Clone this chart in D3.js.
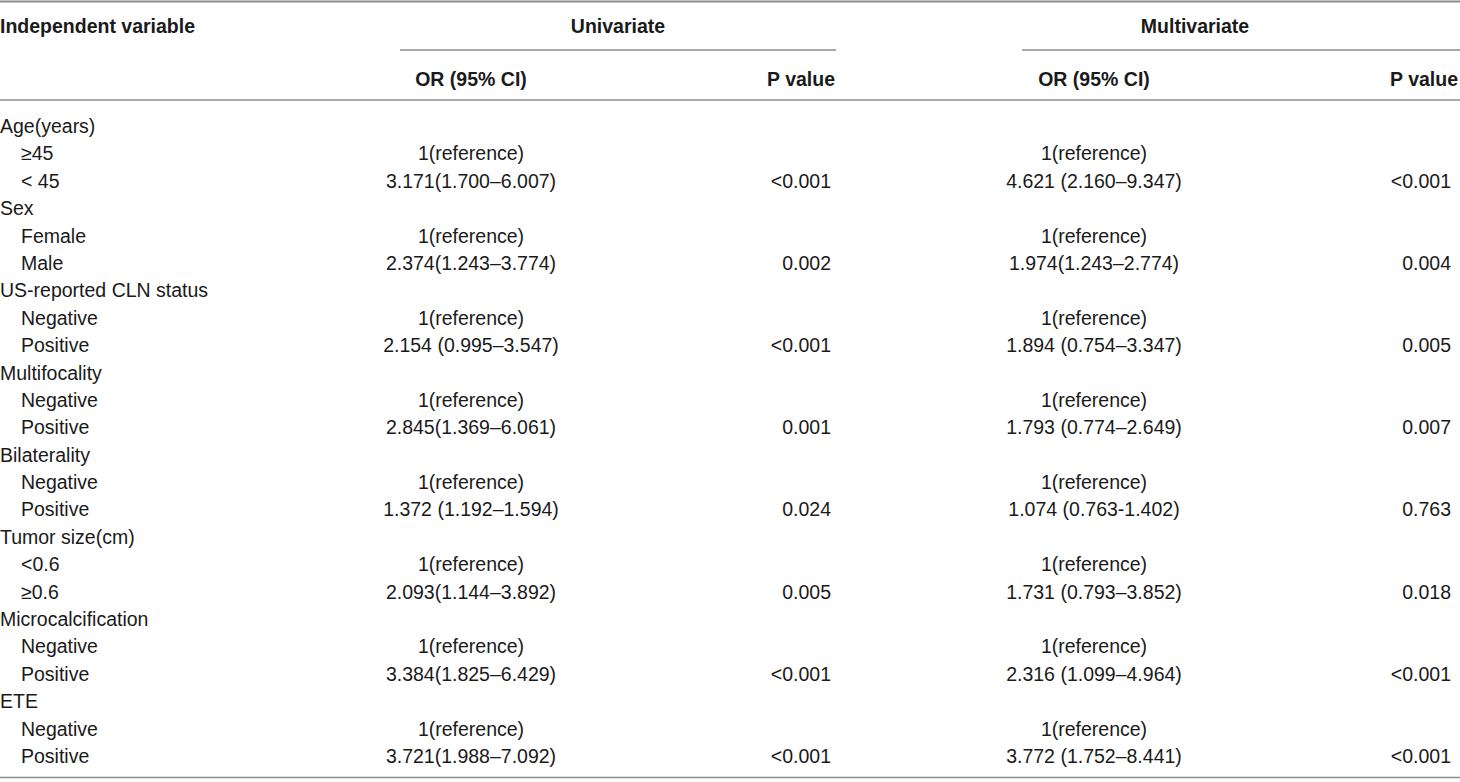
<!DOCTYPE html>
<html>
<head>
<meta charset="utf-8">
<script src="https://cdn.jsdelivr.net/npm/d3@7"></script>
<style>
  html, body { margin: 0; padding: 0; background: #fff; }
  svg { display: block; }
  text { font-family: "Liberation Sans Narrow", "Liberation Sans", Arial, sans-serif; font-stretch: condensed; }
</style>
</head>
<body>
<svg id="tbl" width="1460" height="782"></svg>
<script>
/* ---------- table data ---------- */
const variables = ['Age(years)', 'Sex', 'US-reported CLN status', 'Multifocality',
  'Bilaterality', 'Tumor size(cm)', 'Microcalcification', 'ETE'];
const levels = [
  ['≥45', '< 45'], ['Female', 'Male'], ['Negative', 'Positive'], ['Negative', 'Positive'],
  ['Negative', 'Positive'], ['<0.6', '≥0.6'], ['Negative', 'Positive'], ['Negative', 'Positive'],
];
const uniOR = ['3.171(1.700–6.007)', '2.374(1.243–3.774)', '2.154 (0.995–3.547)', '2.845(1.369–6.061)',
  '1.372 (1.192–1.594)', '2.093(1.144–3.892)', '3.384(1.825–6.429)', '3.721(1.988–7.092)'];
const uniP = ['<0.001', '0.002', '<0.001', '0.001', '0.024', '0.005', '<0.001', '<0.001'];
const multiOR = ['4.621 (2.160–9.347)', '1.974(1.243–2.774)', '1.894 (0.754–3.347)', '1.793 (0.774–2.649)',
  '1.074 (0.763-1.402)', '1.731 (0.793–3.852)', '2.316 (1.099–4.964)', '3.772 (1.752–8.441)'];
const multiP = ['<0.001', '0.004', '0.005', '0.007', '0.763', '0.018', '<0.001', '<0.001'];
const refLabel = '1(reference)';

/* ---------- flatten to rows ---------- */
const rows = [];
variables.forEach((v, i) => {
  rows.push({ label: v, indent: false });
  rows.push({ label: levels[i][0], indent: true, uOR: refLabel, mOR: refLabel });
  rows.push({ label: levels[i][1], indent: true, uOR: uniOR[i], uP: uniP[i], mOR: multiOR[i], mP: multiP[i] });
});

const svg = d3.select('#tbl');
const W = 1460;
const y = d3.scalePoint().domain(d3.range(rows.length)).range([133, 763]);
const col = { label: 0, indent: 21, uOR: 471, uP: 831, mOR: 1094, mP: 1451 };
const ink = '#1a1a1a', rule = '#8c8c8c';
const fs = 19.5;

/* ---------- rules ---------- */
const rules = [
  [0, W, 1.5, 2], [400, 836, 50, 1.4], [1022, W, 50, 1.4], [0, W, 100, 1.4], [0, W, 777.5, 1.6],
];
svg.selectAll('line.rule').data(rules).join('line')
  .attr('x1', d => d[0]).attr('x2', d => d[1]).attr('y1', d => d[2]).attr('y2', d => d[2])
  .attr('stroke', rule).attr('stroke-width', d => d[3]);

/* ---------- header ---------- */
const head = [
  ['Independent variable', 0, 33, 'start'],
  ['Univariate', 618, 33, 'middle'],
  ['Multivariate', 1195, 33, 'middle'],
  ['OR (95% CI)', col.uOR, 86, 'middle'],
  ['P value', 835, 86, 'end'],
  ['OR (95% CI)', col.mOR, 86, 'middle'],
  ['P value', 1458, 86, 'end'],
];
svg.selectAll('text.head').data(head).join('text')
  .attr('class', 'head')
  .attr('x', d => d[1]).attr('y', d => d[2]).attr('text-anchor', d => d[3])
  .attr('font-size', fs).attr('font-weight', 700).attr('fill', ink)
  .text(d => d[0]);

/* ---------- body ---------- */
const g = svg.selectAll('g.row').data(rows).join('g')
  .attr('class', 'row').attr('transform', (d, i) => `translate(0,${y(i)})`);
const cell = (key, x, anchor) => g.filter(d => d[key]).append('text')
  .attr('x', typeof x === 'function' ? x : () => x).attr('text-anchor', anchor)
  .attr('font-size', fs).attr('fill', ink).text(d => d[key]);
cell('label', d => d.indent ? col.indent : col.label, 'start');
cell('uOR', col.uOR, 'middle');
cell('uP', col.uP, 'end');
cell('mOR', col.mOR, 'middle');
cell('mP', col.mP, 'end');
</script>
</body>
</html>
